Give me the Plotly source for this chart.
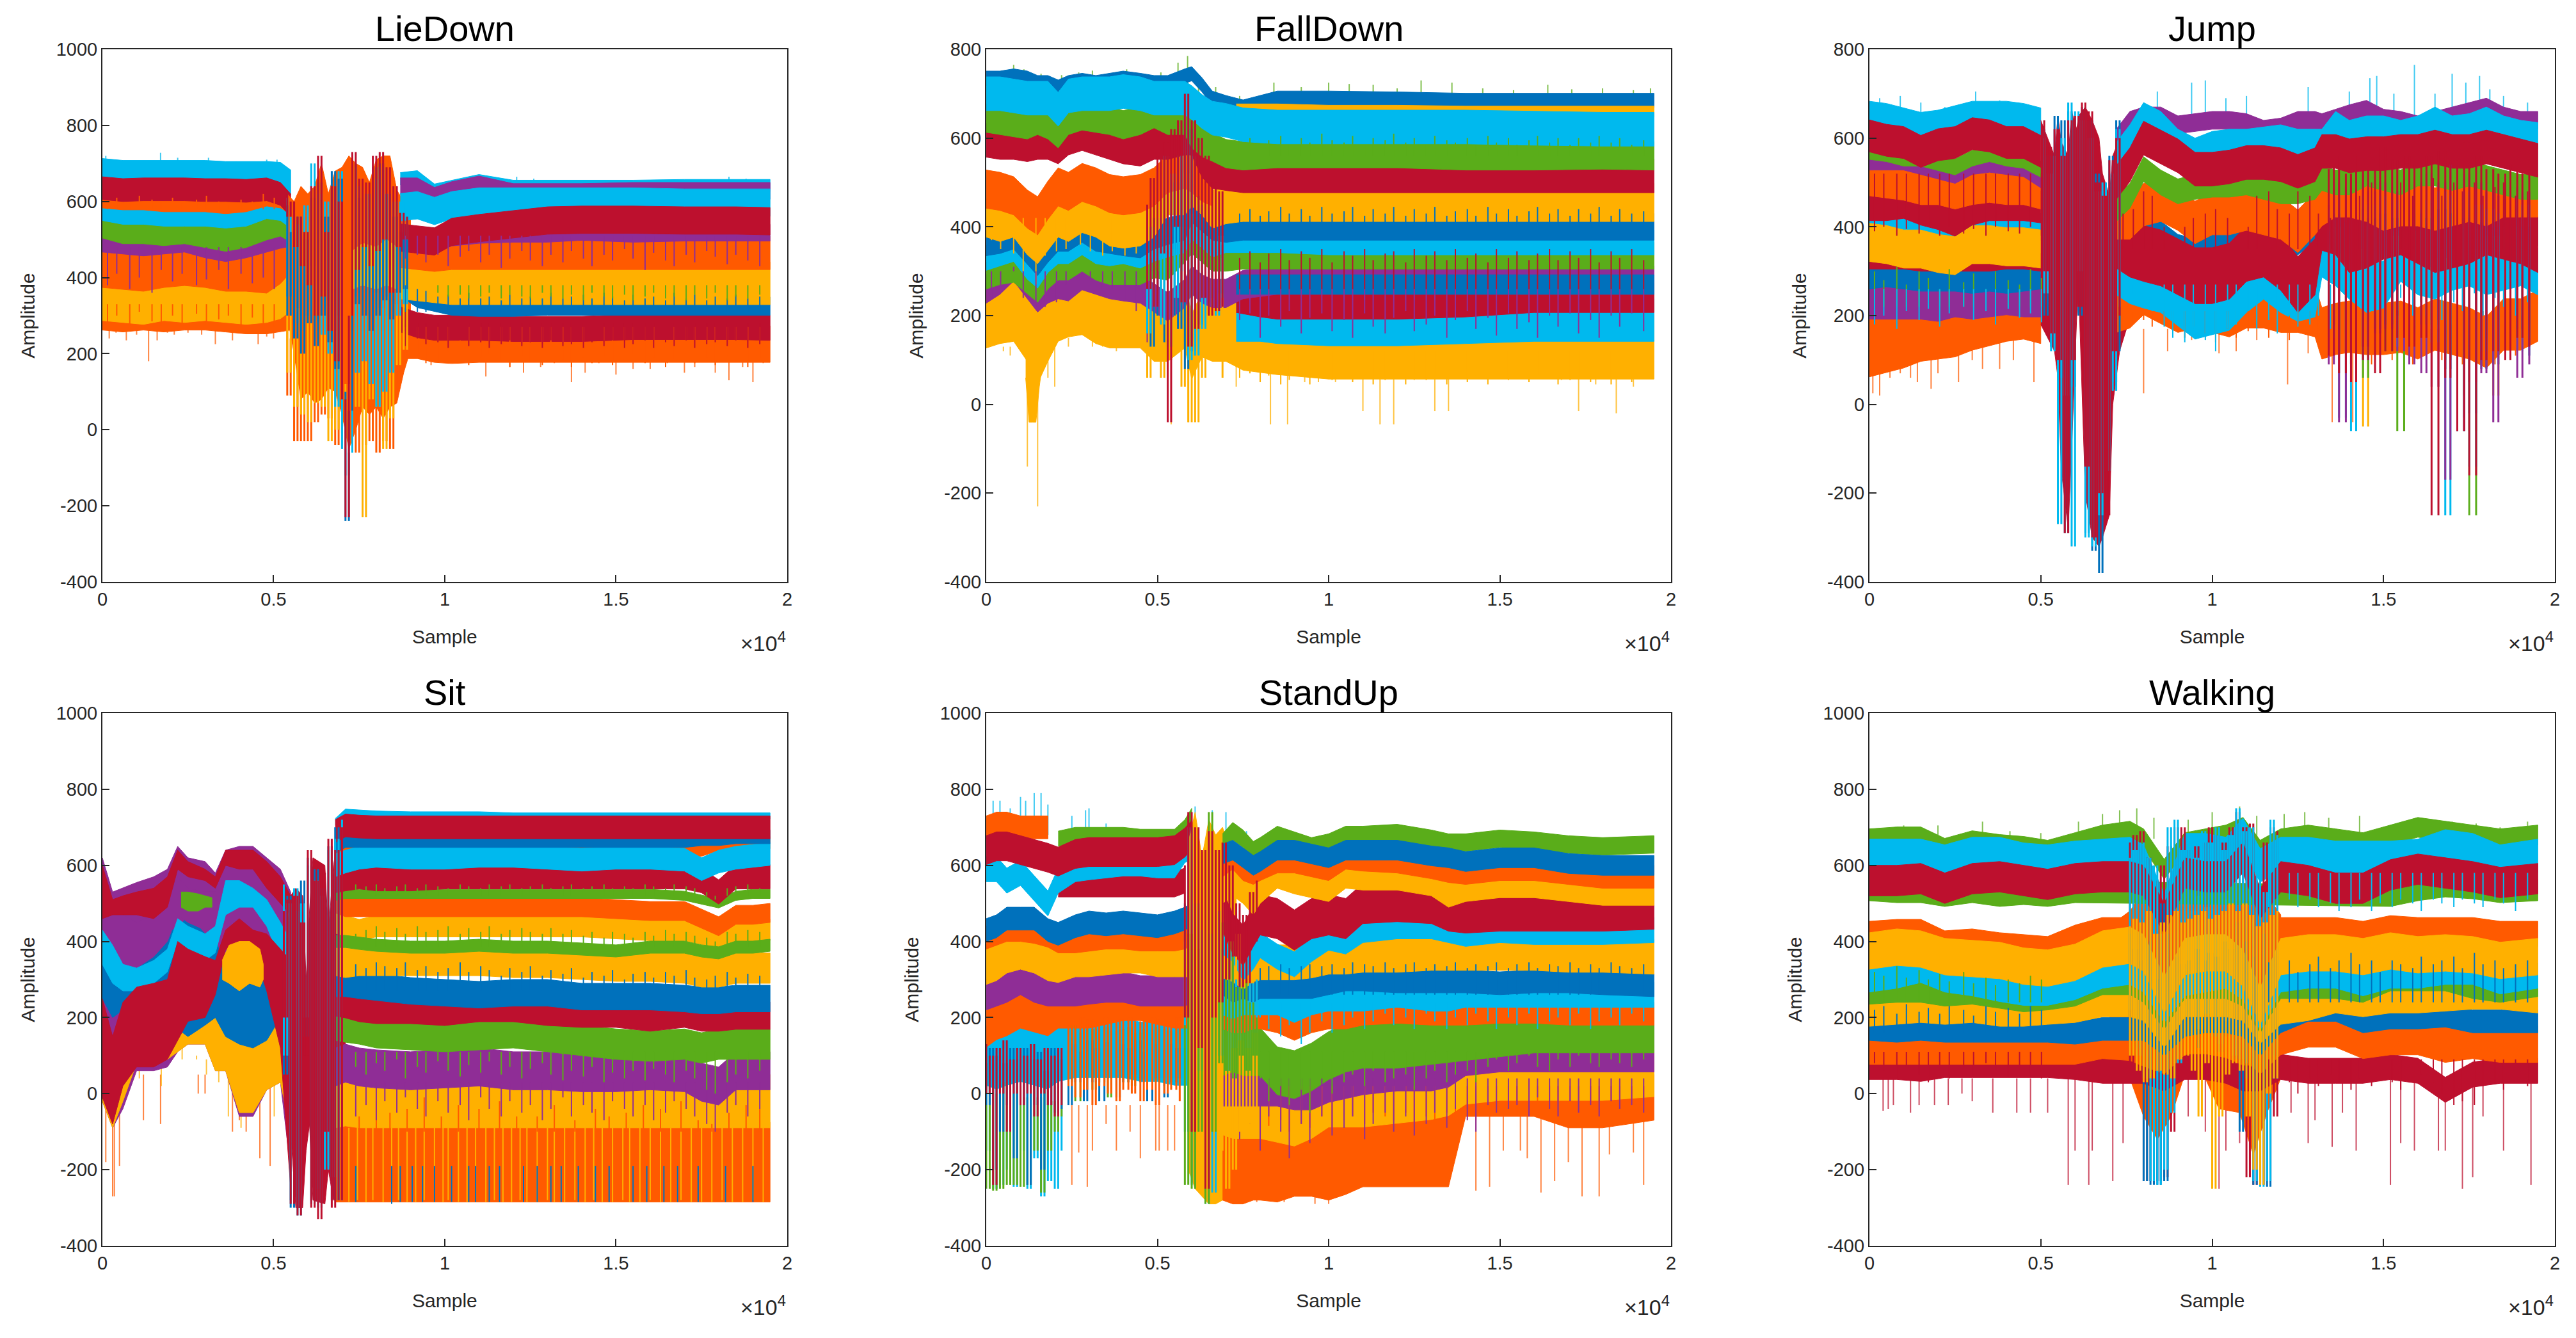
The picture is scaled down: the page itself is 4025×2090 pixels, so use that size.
import plotly.graph_objects as go

# colours of the line families, as they appear once thousands of traces overlap
BLUE = '#0071BC'
ORANGE = '#FF5A00'
YELLOW = '#FFB000'
PURPLE = '#8F2D96'
GREEN = '#5AAD1A'
CYAN = '#00B9EE'
RED = '#BD102E'

TITLES = ['LieDown', 'FallDown', 'Jump', 'Sit', 'StandUp', 'Walking']
X_TICKS = [0, 5000, 10000, 15000, 20000]
X_LABELS = ['0', '0.5', '1', '1.5', '2']
Y_TICKS_TALL = [-400, -200, 0, 200, 400, 600, 800, 1000]
Y_LABELS_TALL = ['-400', '-200', '0', '200', '400', '600', '800', '1000']
Y_TICKS_SHORT = [-400, -200, 0, 200, 400, 600, 800]
Y_LABELS_SHORT = ['-400', '-200', '0', '200', '400', '600', '800']

# sample positions of the single strokes that stick out of the bands
TEX_X = [7400, 7700, 8000, 8250, 8600, 8850, 9200, 9450, 9800, 10100, 10450, 10700, 11050, 11300, 11650, 11900, 12250, 12500, 12850, 13100, 13450, 13700, 14050, 14300, 14650, 14900, 15250, 15500, 15850, 16100, 16450, 16700, 17050, 17300, 17650, 17900, 18250, 18500, 18850, 19200]
TEX_L = [150, 420, 800, 1080, 1450, 1720, 2050, 2330, 2750, 3040, 3400, 3680, 4050, 4380, 4700, 5020]

# ---------- LieDown ----------
LIE_L_X = [0, 600, 1200, 1800, 2400, 3000, 3600, 4200, 4800, 5200, 5500]
LIE_L_BASE = [300, 295, 300, 295, 300, 300, 295, 290, 290, 295, 300]
LIE_L_YELLOW = [345, 340, 335, 345, 340, 345, 340, 335, 340, 350, 370]
LIE_L_ORANGE = [430, 425, 420, 430, 435, 430, 420, 420, 415, 440, 470]
LIE_L_PURPLE = [495, 490, 485, 490, 495, 480, 470, 480, 495, 505, 510]
LIE_L_GREEN = [540, 525, 525, 520, 525, 515, 505, 515, 535, 545, 530]
LIE_L_CYAN = [580, 570, 570, 565, 565, 565, 560, 565, 585, 580, 560]
LIE_L_THIN = [605, 600, 600, 595, 595, 595, 590, 595, 610, 605, 590]
LIE_L_CYAN_TOP = [680, 675, 675, 675, 675, 675, 672, 672, 672, 670, 650]
LIE_L_RED = [635, 630, 632, 632, 632, 630, 630, 628, 632, 620, 590]
LIE_R_X = [8700, 9200, 9700, 10200, 11000, 12000, 13000, 14000, 15500, 17000, 18500, 19500]
LIE_R_BASE = [235, 235, 225, 222, 225, 225, 225, 225, 225, 225, 225, 225]
LIE_R_RED_LOW = [290, 275, 268, 268, 268, 265, 265, 265, 270, 270, 270, 268]
LIE_R_BLUE = [375, 345, 335, 325, 322, 322, 325, 325, 325, 325, 325, 325]
LIE_R_YELLOW = [400, 395, 390, 385, 385, 385, 385, 385, 385, 385, 385, 385]
LIE_R_ORANGE = [470, 465, 460, 465, 465, 465, 465, 465, 465, 465, 465, 465]
LIE_R_PURPLE = [500, 495, 490, 505, 512, 515, 515, 520, 515, 518, 518, 518]
LIE_R_CYAN_TOP = [660, 665, 630, 640, 655, 640, 640, 640, 640, 642, 642, 642]
LIE_R_MIX = [640, 640, 615, 630, 645, 625, 625, 625, 628, 628, 628, 628]
LIE_R_CYAN = [585, 590, 575, 590, 600, 600, 600, 600, 600, 597, 597, 597]
LIE_R_RED = [505, 500, 495, 520, 530, 540, 550, 552, 552, 550, 550, 548]
LIE_E_X = [5400, 5600, 5800, 6000, 6200, 6400, 6600, 6800, 7000, 7200, 7400, 7600, 7800, 8000, 8200, 8400, 8600, 8800, 9000]
LIE_E_LO = [300, 200, 80, 100, 70, 80, 110, 100, 40, -50, 0, 60, 40, 60, 30, 60, 70, 150, 210]
LIE_E_HI = [620, 600, 640, 620, 640, 700, 620, 680, 690, 720, 700, 690, 650, 710, 720, 720, 630, 600, 620]
LIE_Y_X = [7300, 7600, 8000, 8300, 8600]
LIE_Y_LO = [370, 380, 370, 380, 370]
LIE_Y_HI = [470, 490, 480, 500, 480]
LIE_Z_X = [5400, 5500, 5600, 5700, 5800, 5900, 6000, 6100, 6200, 6300, 6400, 6500, 6600, 6700, 6800, 6900, 7000, 7100, 7200, 7300, 7400, 7500, 7600, 7700, 7800, 7900, 8000, 8100, 8200, 8300, 8400, 8500, 8600, 8700, 8800, 8900, 9000]
LIE_Z_ORANGE = [260, 90, 240, -30, 200, -30, 260, -30, 200, 20, 260, 40, 200, 30, 230, -40, 200, -10, 90, -30, 200, -60, 260, -40, 230, -30, 200, -60, 200, -30, 170, -50, 200, 120, 260, 190, 240]
LIE_Z_YELLOW = [420, 150, 350, 60, 320, 40, 300, 20, 430, 70, 300, 60, 340, -30, 260, 0, 300, -50, 120, 50, 350, 60, 360, -230, 300, 80, 360, 60, 320, -50, 350, 30, 330, 170, 380, 210, 360]
LIE_Z_CYAN = [610, 350, 560, 280, 540, 260, 590, 300, 700, 280, 620, 250, 600, 200, 640, 60, 680, -50, -120, -60, 690, 150, 640, 180, 620, 120, 660, 60, 690, 100, 620, 150, 600, 300, 600, 330, 590]
LIE_Z_BLUE = [590, 300, 520, 240, 560, 200, 500, 280, 610, 220, 650, 300, 560, 230, 680, 160, 660, 100, -240, 50, 700, 330, 610, 300, 620, 260, 690, 300, 700, 340, 620, 290, 560, 360, 520, 370, 500]
LIE_Z_RED = [620, 560, 600, 480, 560, 430, 520, 380, 640, 300, 720, 350, 520, 260, 640, 180, 600, 80, -230, 300, 730, 420, 660, 480, 650, 430, 720, 470, 730, 500, 690, 360, 640, 480, 570, 500, 560]
LIE_LOW_X = [200, 400, 700, 1000, 1350, 1600, 1900, 2100, 2500, 2900, 3300, 3500, 3800, 4300, 4550, 4800, 5000, 9600, 10400, 11200, 11900, 12300, 12800, 13200, 13700, 14100, 14500, 15000, 15500, 16000, 16500, 17000, 17300, 17900, 18300, 18700, 19000, 19300]
LIE_LOW_TIP = [240, 255, 235, 250, 180, 235, 255, 250, 255, 250, 225, 260, 235, 255, 225, 245, 240, 170, 175, 140, 165, 150, 165, 175, 125, 150, 175, 145, 160, 160, 175, 150, 165, 150, 130, 165, 125, 175]
LIE_TOP_X = [100, 300, 600, 1000, 1400, 1700, 2200, 2600, 3100, 3500, 3900, 4300, 4800, 5100, 11000, 11400, 12100, 12600, 13200, 13900, 14400, 15100, 15700, 16300, 17000, 17600, 18300, 18800, 19300]
LIE_TOP_TIP = [720, 700, 705, 695, 700, 728, 715, 705, 715, 700, 705, 700, 710, 710, 670, 665, 665, 660, 650, 650, 650, 655, 650, 650, 655, 650, 665, 660, 655]
LIE_T_ORANGE = [190, 210, 195, 185, 205, 180, 195, 175, 180, 205, 185, 170, 190, 200, 180, 165, 195, 180, 170, 200, 185, 165, 190, 175, 195, 170, 185, 200, 175, 190, 165, 185, 200, 175, 190, 170, 195, 180, 165, 190]
LIE_T_RED = [240, 230, 245, 225, 235, 220, 240, 225, 230, 215, 235, 220, 230, 215, 225, 235, 220, 230, 215, 235, 220, 225, 215, 230, 220, 235, 215, 225, 235, 215, 230, 220, 235, 215, 225, 230, 220, 235, 215, 225]
LIE_T_BLUE = [380, 395, 400, 385, 390, 380, 370, 365, 350, 355, 345, 360, 345, 350, 340, 355, 345, 350, 345, 360, 345, 350, 355, 345, 360, 350, 340, 355, 345, 350, 340, 360, 345, 355, 340, 350, 345, 355, 345, 350]
LIE_T_PURPLE = [450, 460, 440, 470, 430, 450, 460, 440, 460, 430, 455, 470, 440, 460, 425, 450, 470, 445, 430, 460, 440, 470, 450, 430, 460, 445, 475, 450, 420, 465, 445, 430, 460, 440, 470, 455, 435, 460, 445, 430]
LIE_T_GREEN = [360, 350, 370, 345, 360, 350, 355, 345, 360, 350, 355, 345, 350, 360, 345, 355, 350, 345, 360, 350, 345, 355, 340, 360, 350, 345, 355, 340, 350, 360, 345, 350, 340, 355, 345, 360, 340, 350, 345, 355]
LIE_TL_PURPLE = [380, 410, 370, 400, 360, 420, 390, 410, 380, 395, 420, 370, 410, 385, 400, 370]
LIE_TL_ORANGE = [600, 610, 595, 615, 605, 600, 610, 595, 605, 615, 600, 590, 605, 600, 620, 610]
LIE_TL_BLUE = [280, 300, 275, 310, 285, 270, 300, 280, 305, 275, 290, 300, 270, 295, 280, 270]

# ---------- FallDown ----------
FALL_X = [0, 400, 800, 1200, 1500, 1800, 2100, 2400, 2800, 3200, 3600, 4000, 4500, 4900, 5300, 5800, 6000, 6300, 6600, 7000, 7500, 8500, 10000, 12000, 14000, 16000, 18000, 19500]
FALL_YELLOW_LOW = [200, 210, 215, 170, 120, 170, 215, 225, 230, 210, 200, 200, 200, 170, 170, 200, 130, 180, 170, 170, 150, 140, 130, 130, 130, 130, 130, 130]
FALL_PURPLE = [260, 280, 310, 270, 240, 260, 270, 265, 290, 280, 270, 265, 260, 240, 220, 250, 280, 260, 250, 250, 270, 280, 280, 280, 280, 280, 280, 280]
FALL_GREEN_LOW = [290, 300, 305, 280, 260, 290, 310, 310, 330, 310, 300, 300, 300, 315, 310, 350, 370, 350, 330, 330, 335, 335, 335, 335, 335, 335, 335, 335]
FALL_CYAN_MID = [330, 340, 350, 310, 290, 325, 345, 345, 365, 345, 340, 345, 335, 350, 360, 370, 400, 380, 360, 370, 370, 370, 365, 365, 365, 365, 365, 365]
FALL_BLUE = [365, 370, 380, 345, 320, 350, 375, 375, 395, 375, 370, 365, 360, 380, 390, 400, 440, 420, 400, 395, 400, 400, 400, 400, 400, 400, 400, 400]
FALL_YELLOW = [420, 410, 420, 380, 360, 390, 420, 410, 430, 420, 400, 395, 400, 420, 470, 470, 490, 470, 440, 450, 455, 455, 455, 455, 455, 455, 455, 455]
FALL_ORANGE = [485, 480, 470, 440, 425, 460, 490, 480, 500, 490, 475, 470, 475, 490, 520, 530, 520, 500, 490, None, None, None, None, None, None, None, None, None]
FALL_RED = [595, 590, 590, 585, 590, 590, 580, 600, 610, 600, 590, 580, 575, 590, 590, 600, 600, 550, 525, 520, 515, 515, 515, 515, 515, 515, 515, 515]
FALL_GREEN = [645, 640, 635, 630, 640, 630, 610, 640, 650, 645, 640, 630, 640, 655, 640, 640, 610, 590, 580, 565, 560, 565, 565, 565, 560, 560, 562, 560]
FALL_TOP = [735, 735, 740, 735, 725, 725, 715, 725, 730, 725, 730, 735, 730, 725, 725, 740, 745, 720, 690, 680, 670, 690, 690, 688, 685, 685, 685, 685]
FALL_CYAN = [700, 700, 695, 690, 690, 690, 665, 695, 700, 700, 700, 705, 700, 690, 690, 690, 680, 660, 645, 640, 630, 625, 625, 625, 625, 622, 620, 620]
FALL_R_X = [7300, 8000, 8500, 10000, 12000, 14000, 16000, 18000, 19500]
FALL_R_CYAN = [190, 190, 185, 180, 180, 185, 190, 190, 190]
FALL_R_RED = [240, 230, 225, 225, 225, 230, 240, 240, 240]
FALL_R_BLUE = [270, 270, 270, 270, 270, 270, 270, 270, 270]
FALL_R_THIN = [665, 665, 665, 662, 662, 660, 660, 660, 660]
FALL_DIP_X = [1150, 1250, 1350, 1450, 1550, 1650]
FALL_DIP_LO = [60, -40, -40, -40, 40, 100]
FALL_DIP_HI = [200, 240, 280, 280, 240, 200]
FALL_Z_X = [4700, 4800, 4900, 5000, 5100, 5200, 5300, 5400, 5500, 5600, 5700, 5800, 5900, 6000, 6100, 6200, 6300, 6400, 6500, 6600, 6700, 6800, 6900, 7000]
FALL_Z_YELLOW = [130, 60, 300, 100, 280, 60, 420, 100, 350, 160, 400, 40, 520, -40, 430, -40, 320, 60, 340, 120, 300, 110, 330, 60]
FALL_Z_BLUE = [200, 330, 130, 420, 200, 380, 140, 430, 200, 500, 170, 560, 80, 620, 120, 470, 180, 420, 230, 400, 240, 380, 250, 360]
FALL_Z_RED = [450, 260, 510, 220, 560, 340, 590, -40, 620, 400, 640, 230, 700, 130, 640, 170, 600, 240, 560, 200, 500, 210, 480, 220]
FALL_Z_CYAN = [340, 160, 400, 220, 420, 180, 560, 130, 520, 240, 560, 300, 700, 100, 560, 110, 450, 170, 410, 220, 370, 200, 380, 240]
FALL_LOW_X = [200, 500, 700, 1000, 1200, 1500, 1800, 2000, 2400, 2800, 3100, 3400, 3800, 4200, 4700, 5000, 5400, 5900, 6200, 6400, 6800, 7300, 7700, 8000, 8300, 8800, 9300, 9700, 10200, 11000, 11500, 11900, 12500, 13100, 13500, 14000, 14800, 15500, 16200, 16800, 17300, 17800, 18400, 18900, 19300]
FALL_LOW_TIP = [130, 120, 110, 125, -140, -230, 60, 40, 150, 130, 150, 140, 120, 130, 60, 120, -45, -40, -40, 60, 110, 40, 70, 65, -45, -45, 50, 50, 50, -15, -45, -45, 55, -15, -15, 60, 60, 60, 70, 55, -15, 45, -20, 40, 70]
FALL_TOP_X = [300, 800, 1100, 1600, 2200, 2700, 3100, 3700, 4100, 4600, 5100, 5600, 5880, 6200, 6700, 7400, 8400, 9200, 10000, 10600, 11300, 12000, 12700, 13600, 14500, 15400, 16400, 17100, 18000, 18900, 19400]
FALL_TOP_TIP = [750, 765, 755, 745, 742, 748, 752, 745, 755, 745, 748, 770, 785, 735, 715, 695, 725, 715, 725, 722, 720, 712, 730, 725, 712, 708, 720, 710, 712, 708, 712]
FALL_T_YELLOW = [60, 70, 50, 65, 45, 55, 70, 45, 60, 55, 65, 50, 70, 45, 55, 60, 45, 65, 55, 70, 45, 60, 50, 65, 45, 70, 55, 60, 50, 65, 70, 45, 55, 65, 50, 60, 45, 70, 50, 60]
FALL_T_PURPLE = [190, 205, 150, 200, 175, 210, 160, 195, 205, 165, 190, 150, 205, 175, 160, 195, 210, 165, 180, 200, 150, 190, 210, 170, 195, 155, 205, 170, 185, 150, 200, 175, 205, 160, 190, 150, 200, 175, 205, 165]
FALL_T_RED = [330, 345, 320, 340, 350, 325, 345, 330, 350, 320, 345, 335, 350, 325, 340, 345, 320, 350, 335, 345, 325, 350, 330, 340, 320, 350, 330, 345, 325, 340, 350, 325, 345, 330, 350, 320, 345, 330, 350, 325]
FALL_T_GREEN = [590, 600, 585, 595, 605, 585, 600, 590, 610, 595, 590, 605, 585, 600, 595, 610, 590, 600, 585, 605, 595, 590, 600, 585, 605, 590, 600, 585, 595, 605, 590, 600, 585, 600, 590, 605, 590, 600, 585, 595]
FALL_T_BLUE = [430, 440, 425, 435, 445, 430, 440, 425, 445, 430, 435, 445, 425, 440, 430, 445, 425, 440, 430, 445, 425, 435, 440, 425, 445, 430, 440, 425, 435, 445, 430, 440, 425, 440, 430, 445, 425, 440, 430, 435]
FALL_TL_YELLOW = [370, 350, 340, 300, 270, 335, 345, 350, 360, 345, 335, 345, 335, 340, 380, 420]
FALL_TL_PURPLE = [240, 260, 310, 240, 220, 220, 230, 270, 300, 285, 260, 260, 235, 210, 140, 230]

# ---------- Jump ----------
JUMP_L_X = [0, 500, 1000, 1500, 2000, 2500, 3000, 3500, 4000, 4500, 5000]
JUMP_L_BASE = [130, 140, 150, 165, 170, 175, 190, 200, 210, 215, 205]
JUMP_L_MIX = [240, 240, 240, 240, 235, 245, 240, 245, 250, 245, 245]
JUMP_L_BLUE = [290, 295, 290, 285, 285, 285, 280, 285, 280, 285, 290]
JUMP_L_RED_LOW = [325, 325, 325, 320, 320, 320, 320, 320, 325, 325, 320]
JUMP_L_YELLOW = [365, 360, 350, 350, 340, 335, 360, 360, 355, 355, 350]
JUMP_L_CYAN_MID = [425, 425, 410, 420, 400, 370, 420, 430, 420, 410, 400]
JUMP_L_RED_MID = [450, 450, 455, 440, 430, 415, 440, 450, 450, 450, 445]
JUMP_L_ORANGE = [510, 505, 500, 490, 490, 480, 490, 495, 490, 490, 480]
JUMP_L_PURPLE = [550, 550, 550, 540, 530, 520, 540, 545, 540, 535, 510]
JUMP_L_GREEN = [570, 565, 555, 555, 545, 535, 555, 565, 555, 550, 530]
JUMP_L_CYAN = [650, 645, 635, 625, 630, 640, 650, 650, 650, 645, 635]
JUMP_L_RED = [605, 595, 590, 570, 585, 590, 610, 605, 590, 590, 570]
JUMP_R_X = [7200, 7600, 8000, 8500, 9000, 9500, 10000, 10500, 11000, 11500, 12000, 12500, 13000, 13200, 13600, 14000, 14500, 15000, 15500, 16000, 16500, 17000, 17500, 18000, 18500, 19000, 19500]
JUMP_R_BASE = [220, 230, 260, 240, 220, 230, 220, 210, 230, 230, 220, 220, 210, 160, 170, 175, 170, 170, 175, 160, 180, 170, 160, 140, 180, 180, 200]
JUMP_R_CYAN_LOW = [300, 280, 270, 260, 230, 200, 210, 220, 260, 290, 260, 240, 250, 340, 320, 290, 260, 270, 330, 300, 290, 310, 320, 300, 310, 320, 300]
JUMP_R_BLUE = [380, 380, 370, 380, 350, 340, 350, 370, 390, 370, 340, 370, 400, 420, 390, 390, 400, 410, 400, 400, 400, 400, 400, 410, 400, 400, 390]
JUMP_R_RED_MID = [370, 350, 340, 330, 310, 290, 290, 300, 340, 350, 320, 270, 310, 410, 400, 360, 370, 390, 400, 380, 360, 370, 380, 400, 390, 380, 360]
JUMP_R_ORANGE = [420, 420, 450, 460, 440, 410, 430, 430, 440, 430, 420, 390, 430, 450, 470, 470, 460, 440, 450, 450, 440, 450, 460, 450, 470, 470, 470]
JUMP_R_GREEN = [440, 470, 530, 500, 480, 490, 495, 495, 500, 490, 480, 480, 490, 510, 500, 500, 520, 510, 500, 520, 520, 510, 520, 510, 500, 490, 490]
JUMP_R_MIX = [600, 640, 650, 650, 630, 635, 640, 640, 635, 620, 625, 640, 640, 635, 645, 655, 665, 645, 640, 630, 640, 650, 660, 670, 650, 640, 640]
JUMP_R_CYAN = [560, 600, 650, 630, 590, 570, 585, 590, 590, 595, 600, 590, 590, 590, 630, 610, 620, 620, 610, 620, 640, 620, 625, 640, 620, 610, 605]
JUMP_R_RED = [500, 540, 600, 580, 560, 530, 530, 535, 545, 545, 540, 525, 540, 570, 570, 560, 565, 565, 570, 570, 580, 570, 570, 580, 570, 560, 550]
JUMP_E_X = [5000, 5200, 5400, 5500, 5600, 5800, 5900, 6050, 6100, 6300, 6500, 6700, 6800, 7000, 7100, 7300, 7500]
JUMP_E_LO = [180, 150, 120, 60, -150, -280, -100, 200, 270, -200, -300, -320, -300, -250, 0, 120, 170]
JUMP_E_HI = [640, 600, 560, 650, 590, 560, 660, 620, 650, 670, 640, 600, 520, 470, 560, 600, 650]
JUMP_Z_X = [5100, 5200, 5300, 5400, 5500, 5600, 5700, 5800, 5900, 6000, 6100, 6200, 6300, 6400, 6500, 6600, 6700, 6800, 6900, 7000, 7100, 7200, 7300, 7400]
JUMP_Z_BLUE = [620, 200, 560, 130, 650, 60, 640, -290, 660, 40, 620, 200, 670, -290, 640, -330, 520, -380, 480, -100, 560, 50, 640, 120]
JUMP_Z_CYAN = [600, 250, 520, 120, 560, -270, 600, 20, 680, -320, 660, 300, 640, -300, 600, -320, 480, -250, 500, -150, 520, 30, 620, 220]
JUMP_Z_RED = [640, 300, 580, 160, 620, 100, 560, -290, 640, 100, 650, 220, 680, -140, 660, -300, 500, -200, 470, -250, 550, 120, 600, 200]
JUMP_R_Z_X = [13400, 13550, 13700, 13900, 14050, 14200, 14400, 14550, 14750, 14900, 15050, 15250, 15400, 15600, 15750, 15900, 16100, 16250, 16400, 16600, 16800, 16950, 17150, 17350, 17500, 17700, 17850, 18000, 18200, 18350, 18550, 18700, 18900, 19050, 19250, 19400]
JUMP_R_Z_RED = [530, 110, 560, 70, 520, 50, 560, 100, 540, 70, 580, 120, 550, 150, 560, 130, 540, 150, 560, -250, 570, 60, 550, -60, 590, -160, 560, 100, 530, 120, 520, 100, 540, 150, 520, 130]
JUMP_R_Z_PURPLE = [450, 90, 500, -40, 490, 90, 520, 130, 480, 160, 500, 170, 480, 120, 510, 90, 500, 70, 520, 40, 500, -170, 540, -60, 520, 50, 500, 70, 480, -40, 470, 120, 490, 60, 480, 90]
JUMP_R_Z_BLUE = [390, 180, 430, 120, 410, 150, 440, 130, 420, 170, 430, 180, 420, 200, 410, 170, 430, 180, 420, 190, 440, 80, 430, -60, 420, -20, 410, 80, 400, 90, 400, 150, 420, 170, 400, 110]
JUMP_R_Z_CYAN = [440, 150, 470, -30, 420, -60, 470, 100, 450, 200, 470, 190, 460, 130, 470, 160, 440, 200, 460, 140, 480, -250, 470, -30, 480, -140, 450, 120, 440, 120, 430, 180, 470, 120, 450, 150]
JUMP_R_Z_GREEN = [360, 220, 400, 160, 370, 90, 420, 60, 400, 190, 420, 120, 390, -60, 410, 220, 390, 230, 420, 180, 400, 100, 430, 20, 460, -250, 400, 150, 380, 190, 380, 120, 400, 150, 370, 180]
JUMP_R_Z_YELLOW = [300, 200, 340, 240, 320, 130, 350, -50, 300, 200, 340, 190, 380, 210, 320, 180, 300, 230, 310, 170, 330, 180, 300, 90, 290, -60, 260, 190, 240, 20, 280, 180, 300, 200, 260, 150]
JUMP_LOW_X = [100, 300, 600, 900, 1200, 1400, 1800, 2000, 2600, 3000, 3300, 3800, 4200, 4800, 8000, 8700, 9400, 10200, 10700, 11300, 12200, 12800, 13500, 14100]
JUMP_LOW_TIP = [25, 20, 60, 70, 60, 50, 35, 70, 50, 100, 80, 80, 100, 50, 25, 120, 145, 115, 120, 145, 45, 115, -40, -40]
JUMP_TOP_X = [300, 900, 1500, 2200, 3100, 3800, 4500, 8400, 9400, 9800, 10400, 11000, 12800, 14000, 14600, 14800, 15300, 15900, 16500, 17000, 17400, 17800, 18100, 18500, 19200]
JUMP_TOP_TIP = [690, 695, 680, 670, 705, 685, 675, 705, 725, 730, 690, 695, 715, 705, 735, 740, 700, 765, 700, 745, 725, 740, 710, 695, 680]
JUMP_T_ORANGE = [170, 185, 190, 175, 185, 165, 150, 175, 160, 140, 170, 150, 165, 175, 150, 170, 145, 165, 180, 150, 170, 130, 110, 130, 90, 120, 100, 130, 90, 110, 130, 100, 120, 90, 110, 130, 90, 130, 110, 130]
JUMP_T_CYAN = [260, 250, 225, 210, 175, 150, 140, 170, 145, 120, 170, 180, 210, 170, 190, 160, 200, 175, 180, 200, 170, 300, 250, 260, 210, 260, 220, 240, 200, 220, 240, 190, 230, 210, 250, 200, 240, 220, 200, 230]
JUMP_T_RED = [430, 440, 480, 470, 400, 380, 400, 420, 430, 440, 420, 350, 400, 470, 480, 440, 430, 480, 470, 430, 420, 500, 480, 470, 500, 470, 490, 500, 470, 490, 510, 470, 500, 480, 500, 470, 490, 500, 470, 480]
JUMP_TL_GREEN = [300, 280, 310, 270, 300, 285, 260, 305, 275, 295, 260, 300, 280, 270, 305, 285]
JUMP_TL_CYAN = [180, 200, 170, 210, 190, 215, 175, 205, 220, 190, 210, 180, 215, 195, 205, 185]
JUMP_TL_RED = [390, 400, 380, 395, 385, 400, 380, 400, 385, 395, 380, 400, 390, 385, 400, 380]

# ---------- Sit ----------
SIT_L_X = [0, 300, 600, 1000, 1500, 1900, 2200, 2500, 3000, 3300, 3600, 4000, 4400, 4800, 5200, 5500]
SIT_L_ALL_LO = [-20, -90, -40, 60, 60, 70, 110, 130, 130, 60, 60, -60, -60, 10, 30, -200]
SIT_L_ALL_HI = [620, 530, 540, 555, 570, 590, 650, 620, 610, 580, 640, 650, 650, 620, 590, 530]
SIT_L_YELLOW_LO = [-20, -90, -20, 80, 80, 90, 110, 130, 130, 60, 60, -50, -50, 10, 30, -100]
SIT_L_YELLOW_HI = [120, 40, 80, 110, 110, 120, 200, 230, 240, 300, 260, 150, 180, 150, 200, 100]
SIT_L_BLUE_LO = [250, 200, 220, 240, 250, 260, 170, 150, 180, 200, 150, 130, 120, 140, 200, 150]
SIT_L_BLUE_HI = [420, 380, 390, 400, 410, 430, 430, 470, 420, 410, 320, 300, 300, 310, 430, 420]
SIT_L_CYAN_LO = [340, 290, 270, 270, 290, 320, 400, 370, 350, 370, 470, 490, 490, 440, 350, 300]
SIT_L_CYAN_HI = [430, 390, 340, 330, 350, 380, 460, 440, 420, 440, 560, 560, 540, 510, 450, 400]
SIT_L_PURPLE_LO = [390, 340, 340, 330, 360, 400, 470, 450, 430, 440, 530, 530, 520, 490, 420, 370]
SIT_L_PURPLE_HI = [500, 470, 470, 450, 470, 500, 570, 540, 530, 530, 600, 600, 590, 550, 510, 480]
SIT_L_RED_LO = [-10, -80, 20, 70, 70, 90, 140, 190, 200, 260, 380, 370, 380, 270, 120, -250]
SIT_L_RED_HI = [250, 150, 240, 280, 290, 300, 400, 380, 360, 350, 430, 460, 430, 420, 380, 350]
SIT_L_TOP_LO = [460, 470, 470, 470, 460, 490, 590, 570, 560, 540, 600, 590, 590, 540, 500, 470]
SIT_L_TOP_HI = [600, 510, 520, 530, 540, 570, 640, 610, 590, 570, 640, 640, 640, 610, 570, 520]
SIT_IN_X = [3500, 3700, 4000, 4300, 4600, 4700]
SIT_IN_LO = [300, 290, 270, 290, 280, 300]
SIT_IN_HI = [350, 390, 400, 400, 380, 340]
SIT_GR_X = [2300, 2500, 2800, 3000, 3200]
SIT_GR_LO = [490, 480, 480, 490, 490]
SIT_GR_HI = [530, 530, 525, 520, 515]
SIT_R_X = [6800, 7100, 7500, 8000, 9000, 10000, 11000, 12000, 13000, 14000, 15000, 16000, 17000, 17500, 18000, 18500, 19000, 19500]
SIT_R_ORANGE = [-180, -180, -180, -180, -180, -180, -180, -180, -180, -180, -180, -180, -180, -180, -180, -180, -180, -180]
SIT_R_YELLOW_LOW = [-20, -15, -20, -20, -20, -20, -20, -20, -20, -20, -20, -20, -20, -20, -20, -20, -20, -20]
SIT_R_PURPLE = [70, 80, 70, 65, 60, 65, 70, 60, 60, 55, 55, 60, 55, 30, 20, 60, 60, 60]
SIT_R_GREEN_LOW = [180, 175, 170, 160, 155, 150, 155, 160, 150, 140, 130, 125, 130, 120, 130, 130, 130, 130]
SIT_R_RED_LOW = [240, 235, 225, 220, 220, 215, 225, 225, 215, 210, 210, 200, 210, 200, 200, 205, 205, 205]
SIT_R_BLUE = [290, 290, 285, 280, 270, 265, 260, 265, 265, 255, 255, 255, 250, 245, 245, 250, 250, 250]
SIT_R_YELLOW = [350, 345, 350, 350, 350, 350, 350, 345, 345, 340, 335, 335, 330, 320, 320, 330, 330, 330]
SIT_R_YELLOW_UP = [450, 440, 430, 440, 440, 440, 440, 440, 440, 440, 435, 430, 430, 420, 410, 425, 425, 430]
SIT_R_GREEN = [400, 400, 395, 390, 385, 385, 390, 385, 385, 380, 375, 385, 385, 375, 370, 385, 385, 390]
SIT_R_ORANGE_UP = [500, 490, 490, 490, 490, 490, 490, 490, 490, 490, 485, 480, 480, 460, 440, 470, 470, 475]
SIT_R_GREEN_THIN = [520, 525, 525, 525, 525, 525, 525, 525, 525, 525, 525, 525, 520, 510, 500, 520, 525, 525]
SIT_R_RED = [560, 565, 570, 565, 565, 570, 570, 570, 570, 570, 570, 570, 570, 560, 530, 570, 570, 570]
SIT_R_CYAN = [600, 610, 620, 625, 620, 620, 625, 625, 620, 615, 620, 620, 615, 590, 610, 620, 625, 630]
SIT_R_MIX = [625, 640, 642, 642, 642, 642, 642, 642, 642, 642, 642, 642, 642, 640, 655, 660, 660, 660]
SIT_R_BLUE_UP = [650, 665, 665, 665, 665, 665, 665, 665, 665, 665, 665, 665, 665, 670, 670, 675, 675, 675]
SIT_R_CYAN_TOP = [715, 740, 738, 735, 733, 733, 733, 730, 730, 730, 730, 730, 730, 730, 730, 730, 730, 730]
SIT_R_TOP = [690, 705, 702, 700, 700, 700, 700, 700, 700, 700, 700, 700, 700, 700, 700, 700, 700, 700]
SIT_E_X = [5400, 5500, 5650, 5850, 5950, 6050, 6150, 6500, 6600, 6750, 6900, 7100]
SIT_E_LO = [100, -100, -300, -300, -150, -80, -280, -290, -200, -280, -280, -280]
SIT_E_HI = [430, 520, 540, 520, 300, 480, 620, 600, 420, 600, 680, 700]
SIT_Z_X = [5300, 5400, 5500, 5600, 5700, 5800, 5900, 6000, 6100, 6200, 6300, 6400, 6500, 6600, 6700, 6800, 6900, 7000, 7100]
SIT_Z_RED = [480, 200, 510, -290, 520, -320, 450, 100, 640, -300, 560, -330, 580, -100, 670, -300, 640, -280, 700]
SIT_Z_BLUE = [540, 50, 520, -300, 480, -280, 560, 150, 620, -290, 590, -250, 540, -190, 650, -280, 700, -280, 680]
SIT_Z_CYAN = [550, 100, 500, -280, 540, -320, 500, 200, 600, -280, 560, -300, 520, -200, 640, -220, 670, -280, 720]
SIT_STRIPE_X = [7200, 7450, 7700, 7900, 8200, 8450, 8650, 8900, 9150, 9400, 9700, 9950, 10100, 10400, 10650, 10900, 11200, 11450, 11700, 11950, 12200, 12400, 12700, 13000, 13200, 13500, 13800, 14100, 14350, 14600, 14900, 15200, 15400, 15700, 16000, 16300, 16600, 16900, 17200, 17500, 17800, 18100, 18400, 18700, 19000, 19300]
SIT_STRIPE_TIP = [-285, -280, -285, -280, -285, -285, -280, -285, -285, -280, -285, -285, -280, -285, -285, -280, -285, -280, -285, -285, -280, -285, -285, -280, -285, -285, -280, -285, -280, -285, -285, -280, -285, -285, -280, -285, -285, -280, -285, -285, -285, -280, -285, -285, -280, -285]
SIT_BLUE_X = [7400, 8450, 8700, 9050, 9350, 9700, 10200, 10700, 10900, 11300, 11600, 12300, 12700, 13100, 13400, 13900, 14400, 14800, 15500, 15900, 16400, 16800, 17400, 18200, 19000]
SIT_BLUE_TIP = [-285, -290, -285, -285, -285, -285, -285, -285, -285, -285, -285, -285, -285, -285, -285, -285, -285, -285, -285, -285, -285, -285, -285, -285, -285]
SIT_DIP_X = [7500, 8000, 8400, 8900, 9400, 9900, 10400, 11000, 11600, 12100, 12700, 13200, 13800, 14400, 14800, 15300, 15800, 16300, 16900, 17400, 17800, 18300, 18800, 19200]
SIT_DIP_TIP = [-60, -20, -50, -40, -10, -60, -30, -40, -20, -60, -60, -30, -70, -40, -60, -50, -30, -40, -20, -70, -80, -50, -30, -40]
SIT_LOW_X = [100, 300, 350, 500, 1200, 1700, 2800, 3000, 3800, 4000, 4200, 4600, 4900]
SIT_LOW_TIP = [-180, -270, -270, -190, -70, -80, 0, 0, -100, -70, -100, -170, -190]
SIT_T_PURPLE = [-60, -30, -70, -20, -50, -10, -40, -60, -20, -50, -30, -70, -10, -40, -60, -20, -50, -30, -70, -40, -10, -60, -30, -50, -70, -20, -40, -60, -30, -70, -50, -20, -40, -60, -80, -100, -50, -30, -60, -40]
SIT_T_GREEN = [70, 50, 80, 60, 90, 40, 70, 55, 85, 60, 45, 75, 55, 85, 50, 70, 40, 65, 80, 50, 35, 60, 45, 70, 30, 55, 40, 60, 35, 65, 50, 30, 60, 40, 10, 0, 30, 50, 40, 60]
SIT_T_BLUE = [340, 330, 345, 335, 330, 345, 325, 335, 320, 330, 345, 320, 335, 325, 310, 330, 320, 335, 310, 325, 315, 330, 305, 320, 310, 325, 300, 315, 320, 305, 320, 310, 325, 305, 300, 310, 320, 305, 315, 310]
SIT_T_GREEN_UP = [420, 430, 440, 425, 435, 420, 440, 425, 430, 440, 420, 435, 425, 440, 420, 430, 435, 425, 420, 435, 420, 430, 415, 425, 410, 425, 420, 410, 425, 415, 430, 420, 425, 415, 410, 400, 425, 420, 430, 425]
SIT_T_GREEN_THIN = [550, 545, 550, 540, 545, 550, 540, 550, 545, 540, 550, 545, 540, 550, 545, 550, 540, 545, 550, 540, 545, 550, 540, 545, 550, 540, 545, 540, 550, 545, 540, 550, 545, 540, 530, 510, 540, 545, 550, 540]
SIT_TL_ORANGE = [30, -40, 70, 40, 60, 20, 90, 120, 100, 50, 30, -60, -90, -40, 0, -60]

# ---------- StandUp ----------
STAND_L_X = [0, 300, 600, 1000, 1400, 1800, 2100, 2600, 3000, 3500, 4000, 4500, 5000, 5500, 5800, 6000]
STAND_L_MIX = [100, 90, 100, 110, 100, 90, 110, 120, 120, 120, 120, 110, 110, 100, 100, 100]
STAND_L_ORANGE_LOW = [170, 190, 200, 220, 210, 200, 220, 220, 220, 230, 240, 240, 230, 220, 220, 220]
STAND_L_PURPLE = [260, 270, 280, 300, 280, 270, 270, 270, 275, 280, 280, 270, 270, 270, 270, 280]
STAND_L_YELLOW = [340, 350, 370, 380, 370, 350, 345, 360, 360, 365, 370, 370, 360, 360, 360, 360]
STAND_L_ORANGE = [410, 420, 430, 430, 425, 415, 400, 400, 405, 410, 410, 405, 405, 405, 410, 420]
STAND_L_BLUE = [430, 440, 460, 460, 460, 430, 420, 440, 450, 445, 450, 445, 440, 450, 460, 470]
STAND_L_THIN = [None, None, None, None, None, None, 550, 550, 550, 550, 550, 550, 550, 550, 560, None]
STAND_L_CYAN = [590, 590, 560, 580, 540, 500, 560, 590, 595, 600, 605, 605, 600, 600, 640, 650]
STAND_L_GREEN = [None, None, None, None, None, None, 670, 680, 680, 680, 680, 675, 675, 675, 700, 730]
STAND_L_TOP = [700, 710, 710, 700, 700, 700, None, None, None, None, None, None, None, None, None, None]
STAND_L_RED = [640, 650, 650, 640, 630, 620, 610, 630, 635, 635, 635, 635, 635, 640, 660, 680]
STAND_E_X = [5900, 6100, 6300, 6500, 6700, 6900, 7100, 7300]
STAND_E_LO = [-200, -250, -270, -290, -290, -280, -280, -280]
STAND_E_HI = [660, 740, 620, 720, 680, 700, 650, 640]
STAND_R_X = [6900, 7200, 7500, 7800, 8000, 8500, 9000, 9500, 10000, 10500, 11000, 12000, 13000, 13500, 14000, 15000, 16000, 17000, 18000, 19500]
STAND_R_ORANGE_LOW_LO = [-280, -290, -290, -280, -280, -285, -270, -270, -280, -265, -245, -245, -245, -245, -60, -60, -60, -90, -90, -70]
STAND_R_ORANGE_LOW_HI = [0, 0, 0, -50, -60, -50, -80, -60, -20, -20, 0, 0, 20, 20, 50, 50, 55, 50, 50, 50]
STAND_R_YELLOW_LOW = [-40, -50, -50, -50, -50, -60, -70, -50, -20, -20, -20, -10, 0, 10, 40, 50, 50, 50, 50, 60]
STAND_R_PURPLE = [30, 30, 30, 30, 30, 30, 20, 20, 40, 50, 60, 70, 70, 80, 110, 120, 120, 120, 120, 120]
STAND_R_GREEN_LOW = [110, 120, 110, 110, 110, 60, 50, 70, 100, 120, 130, 130, 140, 145, 150, 160, 170, 170, 170, 170]
STAND_R_ORANGE_MID = [200, 190, 190, 200, 200, 190, 170, 190, 200, 200, 210, 215, 210, 210, 210, 215, 215, 210, 210, 210]
STAND_R_CYAN_LOW = [240, 230, 240, 240, 240, 240, 220, 240, 250, 250, 250, 260, 250, 250, 260, 260, 260, 260, 260, 260]
STAND_R_BLUE = [290, 270, 280, 270, 280, 280, 280, 280, 290, 300, 300, 295, 295, 295, 295, 290, 295, 295, 290, 285]
STAND_R_YELLOW = [350, 340, 320, 340, 345, 345, 345, 350, 360, 360, 365, 365, 370, 370, 370, 370, 370, 365, 365, 360]
STAND_R_CYAN = [400, 380, 330, 360, 390, 360, 340, 380, 410, 400, 430, 440, 440, 430, 420, 430, 425, 425, 425, 430]
STAND_R_RED = [480, 420, 390, 440, 470, 460, 430, 460, 470, 460, 500, 505, 500, 480, 475, 480, 480, 480, 480, 485]
STAND_R_YELLOW_UP = [540, 560, 540, 510, 540, 580, 565, 555, 545, 580, 575, 575, 560, 530, 545, 555, 555, 545, 535, 535]
STAND_R_ORANGE = [600, 620, 590, 580, 590, 610, 610, 600, 590, 620, 615, 610, 595, 585, 580, 590, 590, 580, 570, 570]
STAND_R_GREEN = [660, 690, 670, 640, 650, 680, 665, 650, 660, 680, 680, 685, 670, 660, 660, 670, 665, 655, 650, 655]
STAND_R_BLUE_UP = [630, 640, 620, 600, 610, 640, 640, 630, 620, 640, 640, 640, 625, 620, 610, 620, 620, 605, 600, 600]
STAND_Z_X = [5800, 5900, 6000, 6100, 6200, 6300, 6400, 6500, 6600, 6700, 6800, 6900, 7000, 7100, 7200, 7300, 7400, 7500, 7600, 7700, 7800, 7900, 8000]
STAND_Z_RED = [600, 200, 740, -100, 700, 120, 640, -250, 690, 200, 640, 240, 660, 300, 600, 360, 500, 280, 470, 290, 530, 400, 560]
STAND_Z_YELLOW = [400, 120, 520, -200, 620, 130, 480, -280, 560, -240, 450, -150, 500, -250, 400, -200, 420, -100, 350, -80, 320, -50, 300]
STAND_Z_CYAN = [500, -100, 700, -240, 500, 60, 430, -290, 420, -260, 480, 100, 380, 60, 350, 120, 300, 140, 320, 120, 290, 160, 300]
STAND_Z_GREEN = [180, -240, 420, -250, 380, -100, 350, -290, 740, -100, 300, 80, 450, 60, 400, 40, 280, 100, 300, 60, 240, 100, 200]
STAND_B_X = [0, 100, 200, 300, 400, 500, 600, 700, 800, 900, 1000, 1100, 1200, 1300, 1400, 1500, 1600, 1700, 1800, 1900, 2000, 2100, 2200, 2300]
STAND_B_CYAN = [50, -150, 40, -250, 60, -240, 50, -200, 30, -245, 60, -150, 30, -250, 50, -170, 40, -270, 70, -230, 20, -250, 50, -150]
STAND_B_GREEN = [-30, -250, 20, -255, 0, -250, 30, -240, 0, -240, 20, -245, -10, -240, 20, -150, -10, -260, 40, -150, -20, -100, 30, -60]
STAND_B_BLUE = [80, -30, 120, -200, 100, -100, 80, -30, 120, -170, 90, -30, 120, -240, 90, -30, 110, -200, 60, -30, 120, -50, 90, -40]
STAND_B_RED = [130, 0, 100, -240, 120, 0, 140, -100, 90, 0, 120, -30, 100, 0, 130, -60, 90, 0, 120, -30, 100, -60, 120, -30]
STAND_C_X = [2400, 2500, 2600, 2750, 2850, 2950, 3100, 3200, 3300, 3450, 3550, 3650, 3800, 3900, 4000, 4150, 4250, 4350, 4500, 4600, 4700, 4850, 4950, 5050, 5200, 5300, 5400, 5550, 5650, 5750]
STAND_C_GREEN = [170, 30, 180, -20, 160, 40, 170, 10, 170, 30, 175, -10, 165, 40, 170, 30, 175, 20, 160, 35, 170, -10, 175, 30, 170, 20, 165, 30, 170, 40]
STAND_C_BLUE = [120, -30, 130, 30, 110, -20, 140, 30, 120, -20, 135, 40, 115, -10, 130, 30, 120, 50, 140, 30, 110, -20, 130, 40, 115, -10, 130, 30, 120, 40]
STAND_C_ORANGE = [180, 20, 190, -10, 200, 10, 195, -30, 190, 20, 200, 0, 190, -20, 195, 10, 200, 0, 190, -20, 190, 10, 200, -30, 195, 0, 190, 10, 200, -20]
STAND_LOW_X = [2500, 2700, 2950, 3100, 3500, 3800, 4200, 4500, 4950, 5050, 5300, 5500, 7900, 8300, 8700, 9600, 10000, 14300, 14700, 15100, 15600, 15800, 16200, 16600, 17000, 17400, 17900, 18200, 18900, 19200]
STAND_LOW_TIP = [-240, -155, -245, -150, -80, -150, -100, -170, -150, -150, -150, -150, -285, -280, -285, -290, -290, -255, -245, -150, -150, -170, -260, -230, -180, -270, -270, -160, -155, -240]
STAND_TOP_X = [200, 400, 700, 1000, 1150, 1400, 1600, 1800, 2500, 2900, 3000, 3500, 6100, 6600, 7000, 7600]
STAND_TOP_TIP = [770, 770, 750, 780, 770, 790, 790, 760, 730, 745, 750, 710, 755, 745, 740, 690]
STAND_T_ORANGE = [-80, -70, -90, -85, -70, -100, -80, -90, -60, -90, -70, -60, -80, -50, -60, -70, -50, -80, -60, -70, -50, -60, -40, -70, -30, -50, -40, -60, -35, -50, -30, -55, -20, -60, -40, -60, -30, -50, -60, -40]
STAND_T_PURPLE = [-120, -80, -150, -60, -100, -170, -80, -130, -60, -110, -90, -60, -120, -80, -50, -100, -60, -110, -80, -50, -90, -40, -70, -100, -30, -50, -40, -30, -60, -10, -40, -60, -20, -50, -30, -60, -20, -40, -30, -50]
STAND_T_GREEN = [30, 0, 40, -20, 20, -30, 10, -50, 40, 0, 30, 50, 20, 60, 30, 40, 50, 10, 40, 60, 30, 50, 60, 30, 70, 90, 60, 80, 100, 70, 60, 90, 70, 100, 80, 70, 90, 80, 70, 90]
STAND_T_BLUE = [340, 340, 330, 335, 340, 330, 335, 340, 335, 340, 330, 345, 340, 335, 345, 330, 340, 345, 330, 340, 335, 345, 330, 340, 335, 345, 330, 340, 345, 330, 340, 335, 345, 330, 340, 330, 345, 335, 330, 340]
STAND_T_CYAN = [190, 160, 200, 170, 150, 180, 130, 160, 190, 160, 180, 200, 170, 190, 210, 180, 200, 170, 210, 190, 170, 200, 180, 210, 190, 170, 200, 180, 210, 170, 190, 200, 180, 210, 170, 190, 200, 180, 210, 190]

# ---------- Walking ----------
WALK_X = [0, 800, 1500, 2200, 3000, 3800, 4500, 5200, 6000, 6800, 7600, 8000, 8600, 9200, 9800, 10400, 10900, 11400, 12000, 12800, 13600, 14400, 15200, 16000, 16800, 17600, 18400, 19500]
WALK_RED_LOW = [70, 70, 65, 75, 75, 75, 75, 75, 70, 60, 60, 60, 40, 70, 70, 60, 40, 40, 70, 60, 60, 60, 70, 60, 10, 50, 60, 60]
WALK_ORANGE_LOW = [125, 125, 125, 125, 125, 125, 125, 125, 125, 140, 135, 120, 100, 150, 160, 150, 140, 100, 150, 170, 170, 140, 150, 150, 130, 140, 130, 130]
WALK_BLUE_LOW = [170, 165, 170, 165, 165, 165, 165, 165, 160, 170, 170, 170, 130, 180, 190, 190, 180, 130, 190, 220, 220, 190, 200, 200, 205, 190, 190, 190]
WALK_YELLOW_LOW = [215, 220, 225, 220, 225, 215, 215, 220, 225, 240, 240, 230, 160, 240, 240, 240, 230, 170, 220, 230, 250, 240, 250, 250, 255, 260, 260, 250]
WALK_GREEN_LOW = [265, 270, 270, 260, 265, 255, 245, 250, 260, 290, 290, 270, 200, 280, 280, 280, 260, 190, 280, 280, 280, 270, 300, 300, 300, 280, 270, 285]
WALK_CYAN_LOW = [300, 310, 325, 300, 290, 275, 265, 265, 280, 310, 320, 300, 220, 290, 300, 310, 280, 200, 300, 310, 310, 290, 310, 310, 320, 320, 295, 310]
WALK_YELLOW = [375, 385, 380, 360, 355, 350, 335, 330, 345, 380, 390, 370, 260, 360, 370, 370, 330, 230, 360, 370, 370, 360, 375, 365, 370, 365, 350, 360]
WALK_ORANGE = [420, 425, 425, 395, 400, 390, 385, 380, 410, 430, 430, 410, 300, 420, 430, 420, 400, 250, 430, 430, 430, 420, 435, 430, 430, 430, 420, 420]
WALK_GREEN_UP = [535, 530, 530, 520, 530, 520, 525, 520, 530, None, None, None, None, None, None, None, None, None, None, None, None, None, 520, 535, 545, 540, 530, 535]
WALK_GREEN = [670, 675, 675, 645, 665, 655, 650, 640, 660, 680, 690, 670, 590, 660, 670, 680, 700, 640, 670, 680, 670, 660, 680, 700, 690, 680, 670, 680]
WALK_CYAN = [625, 625, 625, 610, 630, 630, 615, 610, 620, 625, 630, 610, 480, 640, 640, 630, 680, 600, 630, 630, 620, 620, 620, 625, 650, 640, 610, 625]
WALK_RED = [560, 560, 565, 540, 565, 570, 560, 550, 565, 570, 570, 560, 460, 580, 570, 570, 620, 500, 570, 560, 540, 540, 575, 590, 580, 570, 555, 565]
WALK_E_X = [7000, 7600, 8000, 8400, 8800, 9200, 9800, 10200, 10800, 11200, 11600, 12000]
WALK_E_LO = [60, 40, -60, -120, -60, 50, 40, -40, -50, -160, -50, 40]
WALK_E_HI = [440, 480, 530, 520, 520, 510, 520, 520, 540, 510, 520, 470]
WALK_Z_X = [7600, 7700, 7800, 7900, 8000, 8100, 8200, 8300, 8400, 8500, 8600, 8700, 8800, 8900, 9000, 9100, 9200, 9300, 9400, 9500, 9600, 9700, 9800, 9900, 10000, 10100, 10200, 10300, 10400, 10500, 10600, 10700, 10800, 10900, 11000, 11100, 11200, 11300, 11400, 11500, 11600, 11700, 11800, 11900, 12000]
WALK_Z_RED = [660, 80, 680, 60, 690, -230, 620, -230, 560, -230, 600, -220, 650, -100, 700, 40, 700, 500, 640, 480, 650, 520, 660, 490, 700, 500, 680, 470, 660, 510, 700, 60, 740, 50, 700, -220, 710, -240, 540, -240, 660, -230, 700, -60, 690]
WALK_Z_CYAN = [620, 220, 640, 100, 660, 40, 620, -230, 600, -240, 420, -200, 700, -50, 720, 80, 640, 200, 680, 150, 620, 170, 690, 210, 660, 150, 700, 130, 640, 190, 680, 100, 750, 90, 690, 80, 700, -230, 640, -245, 530, -230, 720, 40, 680]
WALK_Z_BLUE = [420, 160, 380, 120, 350, -230, 400, -240, 300, -240, 500, -230, 420, 0, 360, 130, 340, 170, 350, 150, 380, 120, 350, 170, 370, 150, 360, 110, 400, 150, 380, 90, 450, -100, 400, 40, 360, -240, 300, -240, 420, -245, 360, 100, 380]
WALK_Z_YELLOW = [440, 100, 460, 60, 450, 30, 480, 40, 420, 60, 450, 50, 470, 40, 480, 90, 450, 100, 460, 60, 470, -60, 480, 80, 460, -250, 470, -60, 480, 50, 500, 80, 480, 60, 500, -60, 470, -200, 440, -240, 450, 0, 470, 40, 480]
WALK_LOW_X = [400, 550, 700, 1200, 1450, 1900, 2300, 2700, 3000, 3600, 4300, 4700, 5200, 5800, 6000, 6400, 6500, 7100, 7400, 8900, 9300, 9800, 10200, 10400, 10800, 12300, 12800, 13000, 13500, 13800, 14200, 15200, 15500, 15900, 16600, 16800, 17300, 17600, 17900, 18500, 19300]
WALK_LOW_TIP = [-45, -40, -30, -50, -30, -30, -30, 0, -20, -50, -50, -50, -50, -240, -150, -240, -150, -230, -130, -50, -60, -100, -250, -150, -130, -50, -130, -70, -140, -50, -150, -240, -130, -150, -150, -150, -250, -220, -60, -150, -240]
WALK_TOP_X = [300, 1000, 1500, 2000, 3300, 4100, 5000, 6100, 6800, 7300, 7800, 8300, 9300, 10000, 10800, 11300, 12100, 12700, 13400, 14300, 15300, 16200, 17000, 17700, 18400, 19200]
WALK_TOP_TIP = [695, 705, 700, 705, 715, 690, 685, 715, 735, 745, 750, 725, 720, 740, 755, 730, 735, 740, 725, 730, 705, 720, 715, 710, 700, 715]
WALK_T_BLUE = [330, 340, 320, 310, 340, 300, 345, 330, 310, 340, 350, 330, 300, 320, 345, 310, 350, 320, 340, 360, 330, 350, 370, 340, 350, 320, 350, 340, 330, 360, 340, 350, 360, 330, 370, 340, 350, 330, 340, 350]
WALK_T_RED = [0, 30, 10, 40, 20, 50, 30, 10, 40, 20, 50, 30, 10, 40, 20, 50, 30, 0, 40, 20, 50, 30, 10, 40, 20, 50, 30, 10, 30, 50, 30, 0, -30, -20, -30, 20, 30, 10, 40, 20]
WALK_T_CYAN = [500, 490, 480, 470, 510, 500, 480, 490, 500, 480, 510, 500, 480, 510, 490, 500, 510, 490, 510, 490, 500, 480, 490, 510, 480, 500, 490, 510, 500, 480, 510, 500, 490, 510, 500, 490, 510, 500, 480, 510]
WALK_TL_BLUE = [220, 230, 210, 235, 215, 225, 210, 230, 220, 205, 230, 215, 225, 210, 230, 220]
WALK_TL_GREEN = [320, 310, 335, 305, 325, 300, 315, 295, 320, 290, 305, 285, 300, 290, 310, 300]
WALK_TL_RED = [80, 60, 40, 70, 50, 30, 60, 40, 70, 50, 80, 60, 45, 75, 55, 40]


def around(centre, half):
    # the bands touch in the picture, so each is drawn a little wider than its core
    lo = [None if c is None else c - half - 8 for c in centre]
    hi = [None if c is None else c + half + 8 for c in centre]
    return lo, hi


# (colour, x, lower edge, upper edge) in drawing order
LIE_FILLS = [
    (ORANGE, LIE_L_X, *around(LIE_L_BASE, 30)), (YELLOW, LIE_L_X, *around(LIE_L_YELLOW, 50)),
    (ORANGE, LIE_L_X, *around(LIE_L_ORANGE, 48)), (PURPLE, LIE_L_X, *around(LIE_L_PURPLE, 20)),
    (GREEN, LIE_L_X, *around(LIE_L_GREEN, 28)), (CYAN, LIE_L_X, *around(LIE_L_CYAN, 22)),
    (ORANGE, LIE_L_X, *around(LIE_L_THIN, 14)), (CYAN, LIE_L_X, *around(LIE_L_CYAN_TOP, 25)),
    (RED, LIE_L_X, *around(LIE_L_RED, 22)),
    (ORANGE, LIE_E_X, LIE_E_LO, LIE_E_HI), (YELLOW, LIE_Y_X, LIE_Y_LO, LIE_Y_HI),
    (ORANGE, LIE_R_X, *around(LIE_R_BASE, 40)), (RED, LIE_R_X, *around(LIE_R_RED_LOW, 25)),
    (BLUE, LIE_R_X, *around(LIE_R_BLUE, 16)), (YELLOW, LIE_R_X, *around(LIE_R_YELLOW, 48)),
    (ORANGE, LIE_R_X, *around(LIE_R_ORANGE, 36)), (PURPLE, LIE_R_X, *around(LIE_R_PURPLE, 14)),
    (CYAN, LIE_R_X, *around(LIE_R_CYAN_TOP, 8)), (PURPLE, LIE_R_X, *around(LIE_R_MIX, 14)),
    (CYAN, LIE_R_X, *around(LIE_R_CYAN, 28)), (RED, LIE_R_X, *around(LIE_R_RED, 28)),
]
LIE_BARS = [(ORANGE, LIE_Z_X, LIE_Z_ORANGE), (YELLOW, LIE_Z_X, LIE_Z_YELLOW), (CYAN, LIE_Z_X, LIE_Z_CYAN),
            (BLUE, LIE_Z_X, LIE_Z_BLUE), (RED, LIE_Z_X, LIE_Z_RED)]
LIE_UNDER = [(ORANGE, LIE_LOW_X, LIE_LOW_TIP, 280), (CYAN, LIE_TOP_X, LIE_TOP_TIP, 620)]
LIE_OVER = [(ORANGE, TEX_X[4:], LIE_T_ORANGE[4:], 270), (RED, TEX_X[4:], LIE_T_RED[4:], 280),
            (BLUE, TEX_X[4:], LIE_T_BLUE[4:], 310), (PURPLE, TEX_X[4:], LIE_T_PURPLE[4:], 510),
            (GREEN, TEX_X[8:], LIE_T_GREEN[8:], 380), (PURPLE, TEX_L, LIE_TL_PURPLE, 480),
            (ORANGE, TEX_L, LIE_TL_ORANGE, 580), (ORANGE, TEX_L, LIE_TL_BLUE, 330)]

FALL_FILLS = [
    (YELLOW, FALL_X, *around(FALL_YELLOW_LOW, 65)), (YELLOW, FALL_DIP_X, FALL_DIP_LO, FALL_DIP_HI),
    (CYAN, FALL_R_X, *around(FALL_R_CYAN, 40)), (RED, FALL_R_X, *around(FALL_R_RED, 25)),
    (PURPLE, FALL_X, *around(FALL_PURPLE, 24)), (BLUE, FALL_R_X, *around(FALL_R_BLUE, 14)),
    (GREEN, FALL_X, *around(FALL_GREEN_LOW, 22)), (CYAN, FALL_X, *around(FALL_CYAN_MID, 20)),
    (BLUE, FALL_X, *around(FALL_BLUE, 22)), (YELLOW, FALL_X, *around(FALL_YELLOW, 35)),
    (ORANGE, FALL_X, *around(FALL_ORANGE, 35)), (RED, FALL_X, *around(FALL_RED, 30)),
    (GREEN, FALL_X, *around(FALL_GREEN, 24)), (BLUE, FALL_X, *around(FALL_TOP, 8)),
    (YELLOW, FALL_R_X, *around(FALL_R_THIN, 4)), (CYAN, FALL_X, *around(FALL_CYAN, 30)),
]
FALL_BARS = [(YELLOW, FALL_Z_X, FALL_Z_YELLOW), (BLUE, FALL_Z_X, FALL_Z_BLUE), (CYAN, FALL_Z_X, FALL_Z_CYAN),
             (RED, FALL_Z_X, FALL_Z_RED)]
FALL_UNDER = [(YELLOW, FALL_LOW_X, FALL_LOW_TIP, 130), (GREEN, FALL_TOP_X, FALL_TOP_TIP, 680)]
FALL_OVER = [(YELLOW, TEX_X, FALL_T_YELLOW, 120), (PURPLE, TEX_X, FALL_T_PURPLE, 260), (RED, TEX_X, FALL_T_RED, 260),
             (GREEN, TEX_X, FALL_T_GREEN, 560), (BLUE, TEX_X, FALL_T_BLUE, 400), (YELLOW, TEX_L, FALL_TL_YELLOW, 420),
             (PURPLE, TEX_L, FALL_TL_PURPLE, 300)]

JUMP_FILLS = [
    (ORANGE, JUMP_L_X, *around(JUMP_L_BASE, 60)), (PURPLE, JUMP_L_X, *around(JUMP_L_MIX, 40)),
    (BLUE, JUMP_L_X, *around(JUMP_L_BLUE, 22)), (RED, JUMP_L_X, *around(JUMP_L_RED_LOW, 12)),
    (CYAN, JUMP_L_X, *around(JUMP_L_CYAN_MID, 22)), (YELLOW, JUMP_L_X, *around(JUMP_L_YELLOW, 35)),
    (RED, JUMP_L_X, *around(JUMP_L_RED_MID, 28)), (ORANGE, JUMP_L_X, *around(JUMP_L_ORANGE, 32)),
    (PURPLE, JUMP_L_X, *around(JUMP_L_PURPLE, 14)), (GREEN, JUMP_L_X, *around(JUMP_L_GREEN, 10)),
    (CYAN, JUMP_L_X, *around(JUMP_L_CYAN, 25)), (RED, JUMP_L_X, *around(JUMP_L_RED, 28)),
    (RED, JUMP_E_X, JUMP_E_LO, JUMP_E_HI),
    (ORANGE, JUMP_R_X, *around(JUMP_R_BASE, 50)), (CYAN, JUMP_R_X, *around(JUMP_R_CYAN_LOW, 45)),
    (BLUE, JUMP_R_X, *around(JUMP_R_BLUE, 25)), (RED, JUMP_R_X, *around(JUMP_R_RED_MID, 55)),
    (ORANGE, JUMP_R_X, *around(JUMP_R_ORANGE, 40)), (GREEN, JUMP_R_X, *around(JUMP_R_GREEN, 20)),
    (PURPLE, JUMP_R_X, *around(JUMP_R_MIX, 12)), (CYAN, JUMP_R_X, *around(JUMP_R_CYAN, 22)),
    (RED, JUMP_R_X, *around(JUMP_R_RED, 30)),
]
JUMP_BARS = [(BLUE, JUMP_Z_X, JUMP_Z_BLUE), (CYAN, JUMP_Z_X, JUMP_Z_CYAN), (RED, JUMP_Z_X, JUMP_Z_RED),
             (YELLOW, JUMP_R_Z_X, JUMP_R_Z_YELLOW), (GREEN, JUMP_R_Z_X, JUMP_R_Z_GREEN),
             (CYAN, JUMP_R_Z_X, JUMP_R_Z_CYAN), (BLUE, JUMP_R_Z_X, JUMP_R_Z_BLUE),
             (PURPLE, JUMP_R_Z_X, JUMP_R_Z_PURPLE), (RED, JUMP_R_Z_X, JUMP_R_Z_RED)]
JUMP_UNDER = [(ORANGE, JUMP_LOW_X, JUMP_LOW_TIP, 170), (CYAN, JUMP_TOP_X, JUMP_TOP_TIP, 640)]
JUMP_OVER = [(ORANGE, TEX_X, JUMP_T_ORANGE, 210), (CYAN, TEX_X, JUMP_T_CYAN, 270), (RED, TEX_X, JUMP_T_RED, 350),
             (GREEN, TEX_L, JUMP_TL_GREEN, 220), (CYAN, TEX_L, JUMP_TL_CYAN, 260), (RED, TEX_L, JUMP_TL_RED, 520)]

SIT_FILLS = [
    (PURPLE, SIT_L_X, SIT_L_ALL_LO, SIT_L_ALL_HI), (YELLOW, SIT_L_X, SIT_L_YELLOW_LO, SIT_L_YELLOW_HI),
    (BLUE, SIT_L_X, SIT_L_BLUE_LO, SIT_L_BLUE_HI), (PURPLE, SIT_L_X, SIT_L_PURPLE_LO, SIT_L_PURPLE_HI),
    (CYAN, SIT_L_X, SIT_L_CYAN_LO, SIT_L_CYAN_HI), (RED, SIT_L_X, SIT_L_RED_LO, SIT_L_RED_HI),
    (YELLOW, SIT_IN_X, SIT_IN_LO, SIT_IN_HI), (GREEN, SIT_GR_X, SIT_GR_LO, SIT_GR_HI),
    (RED, SIT_L_X, SIT_L_TOP_LO, SIT_L_TOP_HI), (RED, SIT_E_X, SIT_E_LO, SIT_E_HI),
    (ORANGE, SIT_R_X, *around(SIT_R_ORANGE, 97)), (YELLOW, SIT_R_X, *around(SIT_R_YELLOW_LOW, 62)),
    (PURPLE, SIT_R_X, *around(SIT_R_PURPLE, 42)), (GREEN, SIT_R_X, *around(SIT_R_GREEN_LOW, 32)),
    (RED, SIT_R_X, *around(SIT_R_RED_LOW, 28)), (BLUE, SIT_R_X, *around(SIT_R_BLUE, 27)),
    (YELLOW, SIT_R_X, *around(SIT_R_YELLOW, 32)), (YELLOW, SIT_R_X, *around(SIT_R_YELLOW_UP, 20)),
    (GREEN, SIT_R_X, *around(SIT_R_GREEN, 8)), (ORANGE, SIT_R_X, *around(SIT_R_ORANGE_UP, 17)),
    (GREEN, SIT_R_X, *around(SIT_R_GREEN_THIN, 4)), (RED, SIT_R_X, *around(SIT_R_RED, 24)),
    (ORANGE, SIT_R_X, *around(SIT_R_MIX, 8)), (CYAN, SIT_R_X, *around(SIT_R_CYAN, 22)),
    (BLUE, SIT_R_X, *around(SIT_R_BLUE_UP, 10)), (CYAN, SIT_R_X, *around(SIT_R_CYAN_TOP, 0)),
    (RED, SIT_R_X, *around(SIT_R_TOP, 22)),
]
SIT_BARS = [(BLUE, SIT_Z_X, SIT_Z_BLUE), (CYAN, SIT_Z_X, SIT_Z_CYAN), (RED, SIT_Z_X, SIT_Z_RED)]
SIT_UNDER = [(ORANGE, SIT_LOW_X, SIT_LOW_TIP, 50), (YELLOW, TEX_L, SIT_TL_ORANGE, 90)]
SIT_OVER = [(YELLOW, SIT_STRIPE_X, SIT_STRIPE_TIP, -90), (BLUE, SIT_BLUE_X, SIT_BLUE_TIP, -190),
            (ORANGE, SIT_DIP_X, SIT_DIP_TIP, -100), (PURPLE, TEX_X, SIT_T_PURPLE, 30), (GREEN, TEX_X, SIT_T_GREEN, 110),
            (BLUE, TEX_X, SIT_T_BLUE, 270), (GREEN, TEX_X, SIT_T_GREEN_UP, 385), (GREEN, TEX_X, SIT_T_GREEN_THIN, 520)]

STAND_FILLS = [
    (CYAN, STAND_L_X, *around(STAND_L_MIX, 70)), (ORANGE, STAND_L_X, *around(STAND_L_ORANGE_LOW, 40)),
    (PURPLE, STAND_L_X, *around(STAND_L_PURPLE, 32)), (YELLOW, STAND_L_X, *around(STAND_L_YELLOW, 45)),
    (ORANGE, STAND_L_X, *around(STAND_L_ORANGE, 22)), (BLUE, STAND_L_X, *around(STAND_L_BLUE, 22)),
    (RED, STAND_L_X, *around(STAND_L_THIN, 25)), (CYAN, STAND_L_X, *around(STAND_L_CYAN, 25)),
    (GREEN, STAND_L_X, *around(STAND_L_GREEN, 12)), (ORANGE, STAND_L_X, *around(STAND_L_TOP, 22)),
    (RED, STAND_L_X, *around(STAND_L_RED, 30)),
    (YELLOW, STAND_E_X, STAND_E_LO, STAND_E_HI),
    (ORANGE, STAND_R_X, STAND_R_ORANGE_LOW_LO, STAND_R_ORANGE_LOW_HI),
    (YELLOW, STAND_R_X, *around(STAND_R_YELLOW_LOW, 60)), (PURPLE, STAND_R_X, *around(STAND_R_PURPLE, 55)),
    (GREEN, STAND_R_X, *around(STAND_R_GREEN_LOW, 55)), (ORANGE, STAND_R_X, *around(STAND_R_ORANGE_MID, 22)),
    (CYAN, STAND_R_X, *around(STAND_R_CYAN_LOW, 25)), (BLUE, STAND_R_X, *around(STAND_R_BLUE, 22)),
    (YELLOW, STAND_R_X, *around(STAND_R_YELLOW, 38)), (CYAN, STAND_R_X, *around(STAND_R_CYAN, 25)),
    (RED, STAND_R_X, *around(STAND_R_RED, 45)), (YELLOW, STAND_R_X, *around(STAND_R_YELLOW_UP, 32)),
    (ORANGE, STAND_R_X, *around(STAND_R_ORANGE, 22)), (GREEN, STAND_R_X, *around(STAND_R_GREEN, 15)),
    (BLUE, STAND_R_X, *around(STAND_R_BLUE_UP, 18)),
]
STAND_BARS = [(CYAN, STAND_B_X, STAND_B_CYAN), (GREEN, STAND_B_X, STAND_B_GREEN), (BLUE, STAND_B_X, STAND_B_BLUE),
              (RED, STAND_B_X, STAND_B_RED), (GREEN, STAND_C_X, STAND_C_GREEN), (BLUE, STAND_C_X, STAND_C_BLUE),
              (ORANGE, STAND_C_X, STAND_C_ORANGE), (YELLOW, STAND_Z_X, STAND_Z_YELLOW), (CYAN, STAND_Z_X, STAND_Z_CYAN),
              (GREEN, STAND_Z_X, STAND_Z_GREEN), (RED, STAND_Z_X, STAND_Z_RED)]
STAND_UNDER = [(ORANGE, STAND_LOW_X, STAND_LOW_TIP, -30), (CYAN, STAND_TOP_X, STAND_TOP_TIP, 680)]
STAND_OVER = [(ORANGE, TEX_X, STAND_T_ORANGE, 20), (PURPLE, TEX_X, STAND_T_PURPLE, 40), (GREEN, TEX_X, STAND_T_GREEN, 110),
              (BLUE, TEX_X, STAND_T_BLUE, 260), (CYAN, TEX_X, STAND_T_CYAN, 240)]

WALK_FILLS = [
    (ORANGE, WALK_E_X, WALK_E_LO, WALK_E_HI),
    (RED, WALK_X, *around(WALK_RED_LOW, 25)), (ORANGE, WALK_X, *around(WALK_ORANGE_LOW, 40)),
    (BLUE, WALK_X, *around(WALK_BLUE_LOW, 22)), (YELLOW, WALK_X, *around(WALK_YELLOW_LOW, 30)),
    (GREEN, WALK_X, *around(WALK_GREEN_LOW, 22)), (CYAN, WALK_X, *around(WALK_CYAN_LOW, 25)),
    (ORANGE, WALK_X, *around(WALK_ORANGE, 25)), (YELLOW, WALK_X, *around(WALK_YELLOW, 40)),
    (GREEN, WALK_X, *around(WALK_GREEN_UP, 20)), (GREEN, WALK_X, *around(WALK_GREEN, 18)),
    (CYAN, WALK_X, *around(WALK_CYAN, 36)), (RED, WALK_X, *around(WALK_RED, 32)),
]
WALK_BARS = [(RED, WALK_Z_X, WALK_Z_RED), (BLUE, WALK_Z_X, WALK_Z_BLUE), (CYAN, WALK_Z_X, WALK_Z_CYAN),
             (YELLOW, WALK_Z_X, WALK_Z_YELLOW)]
WALK_UNDER = [(RED, WALK_LOW_X, WALK_LOW_TIP, 40), (GREEN, WALK_TOP_X, WALK_TOP_TIP, 670)]
WALK_OVER = [(BLUE, TEX_X[14:], WALK_T_BLUE[14:], 240), (RED, TEX_X[14:], WALK_T_RED[14:], 90),
             (CYAN, TEX_X[14:], WALK_T_CYAN[14:], 580), (BLUE, TEX_L, WALK_TL_BLUE, 160),
             (GREEN, TEX_L, WALK_TL_GREEN, 240), (RED, TEX_L, WALK_TL_RED, 110)]

PANELS = [
    (LIE_UNDER, LIE_FILLS, LIE_OVER, LIE_BARS, Y_TICKS_TALL, Y_LABELS_TALL),
    (FALL_UNDER, FALL_FILLS, FALL_OVER, FALL_BARS, Y_TICKS_SHORT, Y_LABELS_SHORT),
    (JUMP_UNDER, JUMP_FILLS, JUMP_OVER, JUMP_BARS, Y_TICKS_SHORT, Y_LABELS_SHORT),
    (SIT_UNDER, SIT_FILLS, SIT_OVER, SIT_BARS, Y_TICKS_TALL, Y_LABELS_TALL),
    (STAND_UNDER, STAND_FILLS, STAND_OVER, STAND_BARS, Y_TICKS_TALL, Y_LABELS_TALL),
    (WALK_UNDER, WALK_FILLS, WALK_OVER, WALK_BARS, Y_TICKS_TALL, Y_LABELS_TALL),
]

# the page keeps its 8px body margin, so the figure is that much smaller than the window
COLUMNS = [(0.0379, 0.3048), (0.3824, 0.6493), (0.7266, 0.9938)]
ROWS = [(0.5656, 0.9667), (0.0656, 0.4667)]
TEXT = '#262626'

fig = go.Figure()


def add_strokes(ref, strokes, width, opacity):
    for color, xs, tips, base in strokes:
        sx, sy = [], []
        for x, tip in zip(xs, tips):
            sx += [x, x, None]
            sy += [base, tip, None]
        fig.add_trace(go.Scatter(x=sx, y=sy, mode='lines', line=dict(color=color, width=width),
                                 opacity=opacity, xaxis='x' + ref, yaxis='y' + ref, hoverinfo='skip'))


for i, (under, fills, over, bars, y_ticks, y_labels) in enumerate(PANELS):
    ref = str(i + 1)
    add_strokes(ref, under, 2, 0.75)
    for color, xs, lo, hi in fills:
        kept = [(x, a, b) for x, a, b in zip(xs, lo, hi) if a is not None]
        px = [k[0] for k in kept]
        fig.add_trace(go.Scatter(x=px + px[::-1], y=[k[1] for k in kept] + [k[2] for k in kept][::-1],
                                 mode='lines', fill='toself', fillcolor=color, line=dict(color=color, width=1),
                                 xaxis='x' + ref, yaxis='y' + ref, hoverinfo='skip'))
    add_strokes(ref, over, 2, 1)
    # dense vertical strokes where the traces swing through the whole range
    for color, xs, ys in bars:
        bx, by = [], []
        for j in range(len(ys) - 1):
            bx += [xs[j], xs[j], None]
            by += [ys[j], ys[j + 1], None]
        fig.add_trace(go.Scatter(x=bx, y=by, mode='lines', line=dict(color=color, width=3),
                                 xaxis='x' + ref, yaxis='y' + ref, hoverinfo='skip'))

layout = dict(width=4009, height=2074, showlegend=False, paper_bgcolor='white', plot_bgcolor='white',
              margin=dict(l=0, r=0, t=0, b=0), font=dict(family='Liberation Sans', color=TEXT))
annotations = []
for i, title in enumerate(TITLES):
    col = COLUMNS[i % 3]
    row = ROWS[i // 3]
    ref = '' if i == 0 else str(i + 1)
    y_ticks = PANELS[i][4]
    axis = dict(showline=True, mirror=True, linecolor=TEXT, linewidth=2, showgrid=False, zeroline=False,
                ticks='inside', ticklen=11, tickwidth=2, tickcolor=TEXT, tickfont=dict(size=29), automargin=False)
    layout['xaxis' + ref] = dict(axis, domain=col, range=[0, 20000], tickvals=X_TICKS, ticktext=X_LABELS,
                                 anchor='y' + ref, title=dict(text='Sample', font=dict(size=30), standoff=33))
    layout['yaxis' + ref] = dict(axis, domain=row, range=[-400, y_ticks[-1]], tickvals=y_ticks,
                                 ticktext=PANELS[i][5], anchor='x' + ref,
                                 title=dict(text='Amplitude', font=dict(size=30), standoff=24))
    mid = (col[0] + col[1]) / 2
    # kept just inside the top edge of the figure so the box of the first row is not clipped
    annotations.append(dict(text=title, x=mid, y=row[1] + 0.0155, xref='paper', yref='paper', showarrow=False,
                            xanchor='center', yanchor='middle', borderpad=0, font=dict(size=56, color='black')))
    annotations.append(dict(text='×10<sup>4</sup>', x=col[1], y=row[0] - 0.045, xref='paper', yref='paper',
                            showarrow=False, xanchor='right', yanchor='middle', font=dict(size=34, color=TEXT)))
layout['annotations'] = annotations
fig.update_layout(**layout)
fig.write_html("out.html")
